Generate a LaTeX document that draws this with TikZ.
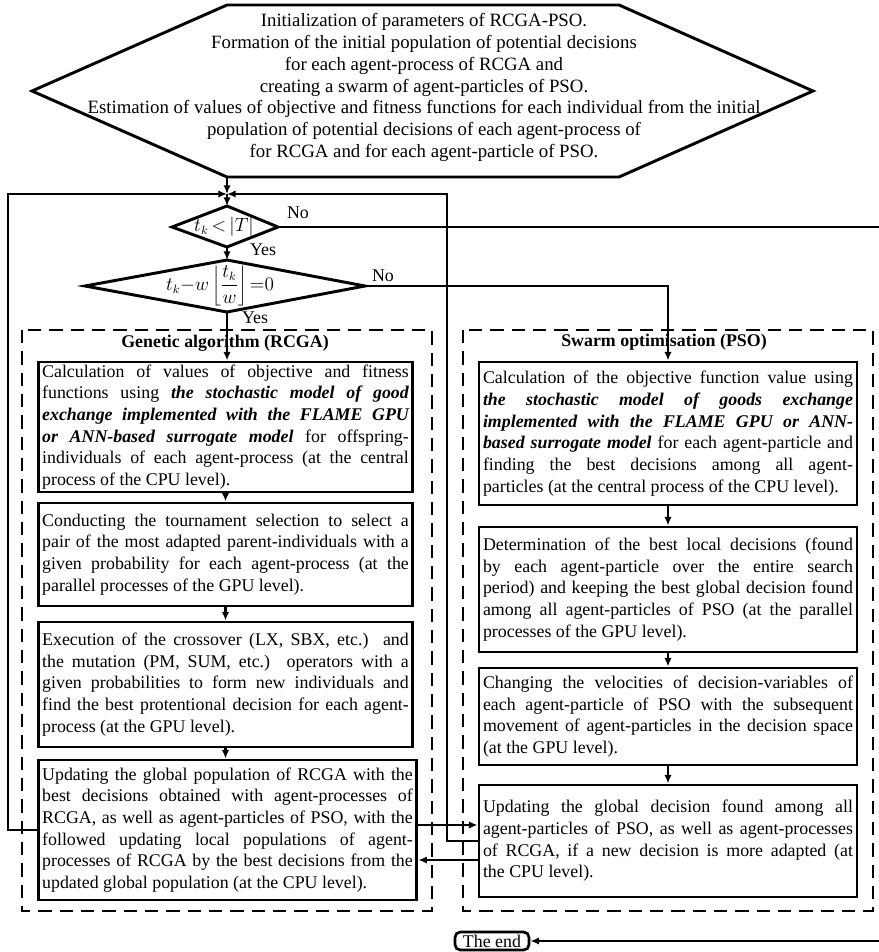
\documentclass[tikz,border=0pt]{standalone}
\usepackage{fontspec}
\setmainfont{Liberation Serif}
\usetikzlibrary{arrows.meta}
\hyphenpenalty=10000
\exhyphenpenalty=10000
\tolerance=10000
\begin{document}
\begin{tikzpicture}[x=0.75pt,y=-0.75pt,
  txt/.style={font=\fontsize{13.4}{16.3}\selectfont},
  box/.style={txt, draw, line width=2.2pt, inner xsep=3pt, inner ysep=0pt, align=justify},
  lbox/.style={box, text width=275pt},
  rbox/.style={box, text width=277.5pt},
  conn/.style={line width=1.9pt},
  arr/.style={conn, -{Latex[length=6.5pt,width=5.5pt]}},
  dashbox/.style={line width=2.2pt, dash pattern=on 10pt off 6pt},
  outline/.style={line width=2.2pt, line join=miter},
  lbl/.style={txt, inner sep=0pt},
  title/.style={txt, font=\fontsize{13.4}{16.3}\selectfont\bfseries, inner sep=0pt},
  endbox/.style={txt, draw, line width=2pt, rounded corners=4pt, inner xsep=2pt, inner ysep=1pt, minimum width=55.5pt, minimum height=13.5pt}
]
\useasboundingbox[fill=white] (0,0) rectangle (878,952);

% ---- hexagon (start)
\coordinate (hexTL) at (227,5);
\coordinate (hexTR) at (619,5);
\coordinate (hexR) at (813,91);
\coordinate (hexBR) at (619,177);
\coordinate (hexBL) at (227,177);
\coordinate (hexL) at (32,91);
\draw[outline] (hexTL) -- (hexTR) -- (hexR) -- (hexBR) -- (hexBL) -- (hexL) -- cycle;
\node[txt, align=center, inner sep=0pt, font=\fontsize{14.1}{16.35}\selectfont] (start) at (424,87.5) {Initialization of parameters of RCGA-PSO.\\
Formation of the initial population of potential decisions\\
for each agent-process of RCGA and\\
creating a swarm of agent-particles of PSO.\\
Estimation of values of objective and fitness functions for each individual from the initial\\
population of potential decisions of each agent-process of\\
for RCGA and for each agent-particle of PSO.};

% ---- decisions
\coordinate (d1t) at (227,206);
\coordinate (d1r) at (278,227);
\coordinate (d1b) at (227,247);
\coordinate (d1l) at (172,227);
\draw[outline] (d1t) -- (d1r) -- (d1b) -- (d1l) -- cycle;
\node[txt, inner sep=0pt] (d1) at (224,227) {$t_k{\,<\,}\bigl|T\bigr|$};

\coordinate (d2t) at (227,260);
\coordinate (d2r) at (365,286);
\coordinate (d2b) at (227,312);
\coordinate (d2l) at (85,286);
\draw[outline] (d2t) -- (d2r) -- (d2b) -- (d2l) -- cycle;
\node[txt, inner sep=0pt, text height=14pt, text depth=14pt] (d2) at (220,290.5) {$\displaystyle t_k{-}w\left\lfloor\frac{t_k}{w}\right\rfloor{=}0$};

\node[lbl] (no1) at (298,213) {No};
\node[lbl] (yes1) at (263,250) {Yes};
\node[lbl] (no2) at (383,276) {No};
\node[lbl] (yes2) at (255,318) {Yes};

% ---- dashed groups
\draw[dashbox] (22,330) rectangle (432,911);
\draw[dashbox] (463,330) rectangle (873,911);
\node[title] (gtitle) at (225,343) {Genetic algorithm (RCGA)};
\node[title] (stitle) at (664,342) {Swarm optimisation (PSO)};

% ---- RCGA boxes
\node[lbox, minimum height=97.5pt] (L1) at (225.5,427) {Calculation of values of objective and fitness\linebreak
functions using \textbf{\textit{the stochastic model of good\linebreak
exchange implemented with the FLAME GPU\linebreak
or ANN-based surrogate model}} for offspring-\linebreak
individuals of each agent-process (at the central\linebreak
process of the CPU level).};

\node[lbox, minimum height=77.25pt] (L2) at (225.5,554.5) {Conducting the tournament selection to select a\linebreak
pair of the most adapted parent-individuals with a\linebreak
given probability for each agent-process (at the\linebreak
parallel processes of the GPU level).};

\node[lbox, minimum height=93.75pt] (L3) at (225.5,684.5) {Execution of the crossover (LX, SBX, etc.) and\linebreak
the mutation (PM, SUM, etc.) operators with a\linebreak
given probabilities to form new individuals and\linebreak
find the best protentional decision for each agent-\linebreak
process (at the GPU level).};

\node[box, text width=278pt, minimum height=105pt] (L4) at (227.5,830) {Updating the global population of RCGA with the\linebreak
best decisions obtained with agent-processes of\linebreak
RCGA, as well as agent-particles of PSO, with the\linebreak
followed updating local populations of agent-\linebreak
processes of RCGA by the best decisions from the\linebreak
updated global population (at the CPU level).};

% ---- PSO boxes
\node[rbox, minimum height=107.25pt] (R1) at (668,433.5) {Calculation of the objective function value using\linebreak
\textbf{\textit{the stochastic model of goods exchange\linebreak
implemented with the FLAME GPU or ANN-\linebreak
based surrogate model}} for each agent-particle and\linebreak
finding the best decisions among all agent-\linebreak
particles (at the central process of the CPU level).};

\node[rbox, minimum height=93.75pt] (R2) at (668,589.5) {Determination of the best local decisions (found\linebreak
by each agent-particle over the entire search\linebreak
period) and keeping the best global decision found\linebreak
among all agent-particles of PSO (at the parallel\linebreak
processes of the GPU level).};

\node[rbox, minimum height=72.75pt] (R3) at (668,716.5) {Changing the velocities of decision-variables of\linebreak
each agent-particle of PSO with the subsequent\linebreak
movement of agent-particles in the decision space\linebreak
(at the GPU level).};

\node[rbox, minimum height=84pt] (R4) at (668,841) {Updating the global decision found among all\linebreak
agent-particles of PSO, as well as agent-processes\linebreak
of RCGA, if a new decision is more adapted (at\linebreak
the CPU level).};

% ---- end
\node[endbox] (end) at (492,941) {The end};

% ---- helper coordinates
\coordinate (J) at (227,194);
\coordinate (loopL) at (8,194);
\coordinate (loopR) at (447,194);
\coordinate (farR) at (880,0);
\coordinate (y825) at (0,825);
\coordinate (y860) at (0,860);

% ---- connectors
\draw[arr] (hexBL) -- (J);
\draw[arr] (L4.west) -| (loopL) -- (J);
\draw[arr] (R4.west) -| (loopR) -- (J);
\draw[arr] (J) -- (d1t);
\draw[arr] (d1b) -- (d2t);
\draw[arr] (d1r) -- (d1r -| farR) |- (end.east);
\draw[arr] (d2b) -- (d2b |- L1.north);
\draw[arr] (d2r) -| (R1.north);
\draw[arr] (L1.south) -- (L2.north);
\draw[arr] (L2.south) -- (L3.north);
\draw[arr] (L3.south) -- (L3.south |- L4.north);
\draw[arr] (R1.south) -- (R2.north);
\draw[arr] (R2.south) -- (R3.north);
\draw[arr] (R3.south) -- (R4.north);
\draw[arr] (L4.east |- y825) -- (R4.west |- y825);
\draw[arr] (R4.west |- y860) -- (L4.east |- y860);
\end{tikzpicture}
\end{document}
